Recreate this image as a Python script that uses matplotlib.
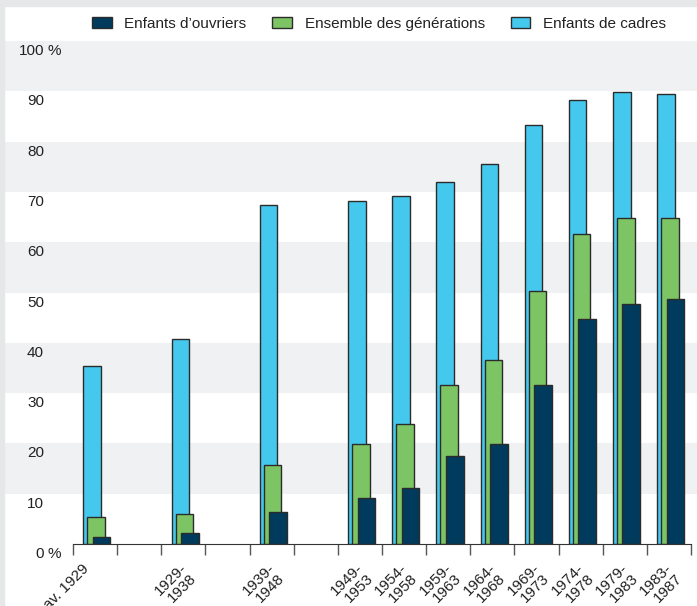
import matplotlib.pyplot as plt
from matplotlib.patches import Rectangle, Patch
from matplotlib.transforms import ScaledTranslation

# data (%)
periodes = ["av. 1929", "1929-\n1938", "1939-\n1948", "1949-\n1953", "1954-\n1958",
            "1959-\n1963", "1964-\n1968", "1969-\n1973", "1974-\n1978", "1979-\n1983",
            "1983-\n1987"]
cadres = [35.4, 40.8, 67.4, 68.2, 69.1, 71.9, 75.5, 83.3, 88.3, 89.9, 89.5]
ensemble = [5.4, 6.0, 15.7, 19.8, 23.9, 31.7, 36.6, 50.2, 61.6, 64.9, 64.9]
ouvriers = [1.4, 2.2, 6.4, 9.1, 11.2, 17.4, 19.9, 31.7, 44.8, 47.7, 48.8]
yticks = [0, 10, 20, 30, 40, 50, 60, 70, 80, 90, 100]

# layout: first periods are spaced two slots apart
slots = [0, 2, 4, 6, 7, 8, 9, 10, 11, 12, 13]

c_cadres = "#45c8ee"
c_ens = "#7dc464"
c_ouv = "#003a5c"
edge = "#2b2b2b"
txt = "#222222"
fs = 11
plt.rcParams["font.family"] = ["Liberation Sans", "DejaVu Sans"]

W, H = 697, 606
fig = plt.figure(figsize=(W / 100, H / 100), dpi=100)

# frame strips
fig.patches.append(Rectangle((0, 1 - 6 / H), 1, 6 / H, transform=fig.transFigure,
                             color="#e6e7e9", zorder=0))
fig.patches.append(Rectangle((0, 0), 4 / W, 1, transform=fig.transFigure,
                             color="#e6e7e9", zorder=0))

ax = fig.add_axes([4 / W, (H - 544) / H, (W - 4) / W, (544 - 41) / H])
x0 = (4 - 95.07) / 44.14
x1 = (697 - 95.07) / 44.14
ax.set_xlim(x0, x1)
ax.set_ylim(0, 100)

for k in range(1, 10, 2):
    ax.axhspan(k * 10, k * 10 + 10, color="#f0f1f3", lw=0, zorder=0)

w = 0.40
ax.bar([s - 0.068 for s in slots], cadres, w, color=c_cadres, edgecolor=edge, lw=1, zorder=2)
ax.bar([s + 0.023 for s in slots], ensemble, w, color=c_ens, edgecolor=edge, lw=1, zorder=3)
ax.bar([s + 0.147 for s in slots], ouvriers, w, color=c_ouv, edgecolor=edge, lw=1, zorder=4)

for s in ["top", "right", "left"]:
    ax.spines[s].set_visible(False)
ax.spines["bottom"].set_bounds(-0.5, 13.5)
ax.spines["bottom"].set_color("#333333")
ax.spines["bottom"].set_zorder(5)

ax.set_yticks([])
ax.set_xticks(slots)
ax.set_xticklabels(periodes, rotation=45, ha="right", va="center",
                   rotation_mode="anchor", fontsize=fs, color=txt,
                   multialignment="right", linespacing=1.0)
ax.tick_params(axis="x", which="major", length=0, pad=16.5)
for lab in ax.get_xticklabels():
    if "\n" in lab.get_text():
        off = ScaledTranslation(6 / 100, -4 / 100, fig.dpi_scale_trans)
    else:
        off = ScaledTranslation(-8 / 100, 0, fig.dpi_scale_trans)
    lab.set_transform(lab.get_transform() + off)
ax.set_xticks([i - 0.5 for i in range(15)], minor=True)
ax.tick_params(axis="x", which="minor", length=8, width=1, color="#555555")

# y labels drawn inside the left margin
xnum = (44 - 95.07) / 44.14
for v in yticks:
    ax.text(xnum, v - 0.6, str(v), ha="right", va="top", fontsize=fs, color=txt)
    if v in (0, 100):
        ax.text(xnum + 0.09, v - 0.6, "%", ha="left", va="top", fontsize=fs, color=txt)

handles = [Patch(facecolor=c_ouv, edgecolor=edge, label="Enfants d\u2019ouvriers"),
           Patch(facecolor=c_ens, edgecolor=edge, label="Ensemble des générations"),
           Patch(facecolor=c_cadres, edgecolor=edge, label="Enfants de cadres")]
fig.legend(handles=handles, loc="center", bbox_to_anchor=(379 / W, 1 - 24 / H),
           ncol=3, frameon=False, fontsize=fs, handlelength=1.3, handleheight=0.7,
           handletextpad=0.8, columnspacing=1.7, labelcolor=txt)

fig.savefig("out.png", dpi=100)
